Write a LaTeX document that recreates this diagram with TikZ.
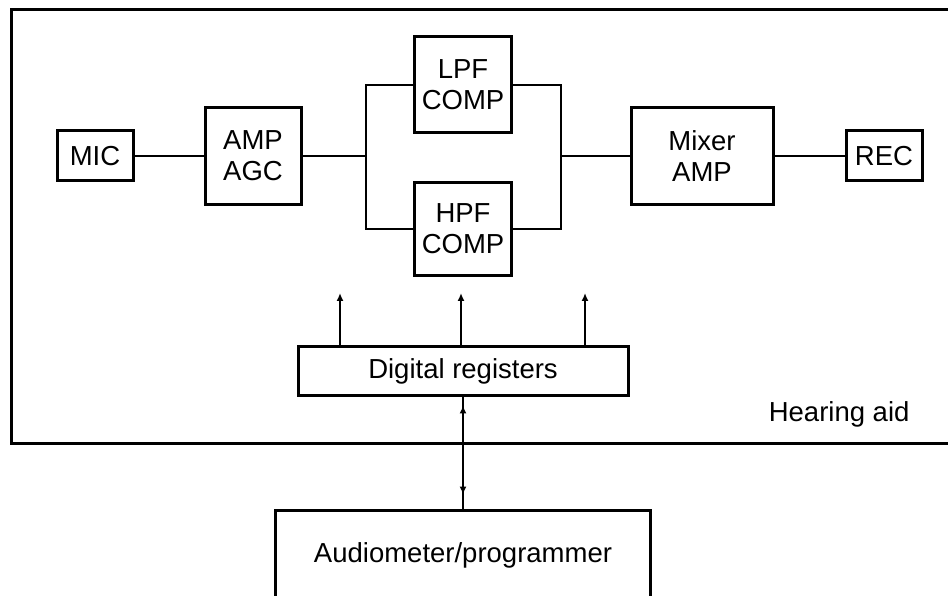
\documentclass[tikz,border=0pt]{standalone}
\usepackage{fontspec}
\setmainfont{Liberation Sans}
\usetikzlibrary{positioning,arrows.meta}

\begin{document}
\begin{tikzpicture}[x=1pt,y=1pt,font=\fontsize{27.5}{31}\selectfont,>={Latex[length=8pt,width=7pt]},
  blk/.style={draw,line width=3pt,align=center,inner sep=0pt},
  wire/.style={line width=2.2pt},
  ctl/.style={wire,->}]
  \useasboundingbox (0,0) rectangle (948,595);
  \clip (0,0) rectangle (948,595);
  % hearing aid enclosure
  \draw[line width=3pt] (11,152) rectangle (970,585);
  \node[anchor=base east] (hlbl) at (913,173) {Hearing aid};
  % signal path
  \node[blk,minimum width=76pt,minimum height=50pt] (mic) at (95,439) {MIC};
  \node[blk,minimum width=96pt,minimum height=97pt,right=69pt of mic] (agc) {AMP\\AGC};
  \node[blk,minimum width=97pt,minimum height=96pt] (lpf) at (463,510) {LPF\\COMP};
  \node[blk,minimum width=97pt,minimum height=93pt] (hpf) at (463,366) {HPF\\COMP};
  \node[blk,minimum width=142pt,minimum height=97pt] (mix) at (702,439) {Mixer\\AMP};
  \node[blk,minimum width=76pt,minimum height=50pt,right=70pt of mix] (rec) {REC};
  \coordinate (jl) at (366,439);
  \coordinate (jr) at (561,439);
  \draw[wire] (mic) -- (agc);
  \draw[wire] (agc) -- (jl);
  \draw[wire] (lpf.west) -| (jl) |- (hpf.west);
  \draw[wire] (lpf.east) -| (jr) |- (hpf.east);
  \draw[wire] (jr) -- (mix);
  \draw[wire] (mix) -- (rec);
  % control
  \node[blk,minimum width=330pt,minimum height=49pt] (regs) at (463,223.5) {Digital registers};
  \node[blk,minimum width=375pt,minimum height=90pt,below=111pt of regs] (aud) {Audiometer/programmer};
  \coordinate (c1) at (340,302);
  \coordinate (c2) at (461,302);
  \coordinate (c3) at (585,302);
  \draw[ctl] (regs.north -| c1) -- (c1);
  \draw[ctl] (regs.north -| c2) -- (c2);
  \draw[ctl] (regs.north -| c3) -- (c3);
  \draw[wire] (regs) -- (aud);
  \draw[wire,<->,shorten <=8pt,shorten >=14pt] (regs) -- (aud);
\end{tikzpicture}
\end{document}
